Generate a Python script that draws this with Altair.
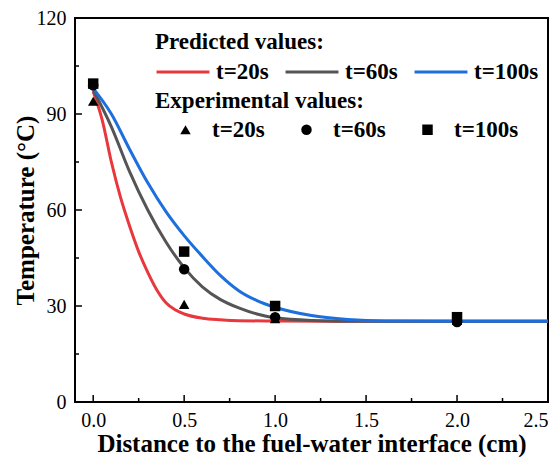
import altair as alt
import pandas as pd

# ---- data ----
series_names = ["t=20s", "t=60s", "t=100s"]
line_colors = ["#e8383d", "#555555", "#1c6fdc"]
marker_shapes = ["triangle-up", "circle", "square"]

# predicted curves
x_20 = [0, 0.05, 0.1, 0.15, 0.2, 0.25, 0.3, 0.35, 0.4, 0.45, 0.5, 0.6, 0.7, 0.8, 1.0, 1.5, 2.0, 2.5]
y_20 = [97, 88, 75, 64, 55, 47, 40.5, 35, 31, 28.8, 27.5, 26.2, 25.7, 25.4, 25.3, 25.2, 25.2, 25.2]
x_60 = [0, 0.1, 0.2, 0.3, 0.4, 0.5, 0.6, 0.7, 0.8, 0.9, 1.0, 1.2, 1.5, 2.0, 2.5]
y_60 = [97.5, 86, 72, 60, 50, 42, 36, 32, 29.4, 27.5, 26.3, 25.5, 25.2, 25.2, 25.2]
x_100 = [0, 0.1, 0.2, 0.3, 0.4, 0.5, 0.6, 0.7, 0.8, 0.9, 1.0, 1.2, 1.4, 1.6, 2.0, 2.5]
y_100 = [98, 90, 79, 68.5, 59.5, 52, 45.5, 39.5, 34.8, 31.7, 29.6, 27, 25.8, 25.3, 25.2, 25.2]

# experimental points
exp_x = [0, 0.5, 1.0, 2.0]
exp_20 = [94, 30.5, 26, 25.5]
exp_60 = [99, 41.5, 26.5, 25]
exp_100 = [99.5, 47, 30, 26.5]

# axis ticks
x_major = [0, 0.5, 1.0, 1.5, 2.0, 2.5]
x_minor = [0.25, 0.75, 1.25, 1.75, 2.25]
y_major = [0, 30, 60, 90, 120]
y_minor = [15, 45, 75, 105]

# ---- tables ----
rows = []
for name, xs_, ys_ in zip(series_names, [x_20, x_60, x_100], [y_20, y_60, y_100]):
    for i, (a, b) in enumerate(zip(xs_, ys_)):
        rows.append({"x": a, "y": b, "series": name, "order": i})
lines_df = pd.DataFrame(rows)

prow = []
for name, ys_ in zip(series_names, [exp_20, exp_60, exp_100]):
    for a, b in zip(exp_x, ys_):
        prow.append({"x": a, "y": b, "exp": name})
pts_df = pd.DataFrame(prow)

FONT = '"Liberation Serif", serif'
W, H = 473, 384
xs = alt.Scale(domain=[-0.1, 2.5], nice=False, zero=False)
ys = alt.Scale(domain=[0, 120], nice=False, zero=False)

lines = alt.Chart(lines_df).mark_line(strokeWidth=3, interpolate="monotone").encode(
    x=alt.X("x:Q", scale=xs,
            axis=alt.Axis(values=x_major, format=".1f", title="Distance to the fuel-water interface (cm)",
                          ticks=False, domain=False, grid=False, labelPadding=8,
                          labelFont=FONT, labelFontSize=20, labelColor="black",
                          titleFont=FONT, titleFontSize=25, titleFontWeight="bold", titleColor="black",
                          titleY=29, titleBaseline="top")),
    y=alt.Y("y:Q", scale=ys,
            axis=alt.Axis(values=y_major, title="Temperature (°C)",
                          ticks=False, domain=False, grid=False, labelPadding=9,
                          labelFont=FONT, labelFontSize=20, labelColor="black",
                          titleFont=FONT, titleFontSize=25, titleFontWeight="bold", titleColor="black",
                          titleX=-37, titleY=H / 2, titleAngle=270, titleBaseline="bottom")),
    color=alt.Color("series:N", scale=alt.Scale(domain=series_names, range=line_colors),
                    legend=alt.Legend(title="Predicted values:", orient="none", legendX=80, legendY=13,
                                      direction="horizontal", symbolType="stroke", symbolSize=2800,
                                      symbolStrokeWidth=3, labelOffset=5, columnPadding=10,
                                      titleFont=FONT, labelFont=FONT,
                                      titleFontSize=23, titleFontWeight="bold", titleColor="black",
                                      labelFontSize=23, labelFontWeight="bold", labelColor="black",
                                      titlePadding=-10, padding=0, titleLimit=0, labelLimit=0)),
    order="order:Q",
)

points = alt.Chart(pts_df).mark_point(filled=True, size=110, color="black", opacity=1).encode(
    x=alt.X("x:Q", scale=xs),
    y=alt.Y("y:Q", scale=ys),
    shape=alt.Shape("exp:N", scale=alt.Scale(domain=series_names, range=marker_shapes),
                    legend=alt.Legend(title="Experimental values:", orient="none", legendX=80, legendY=72,
                                      direction="horizontal", symbolSize=110, symbolFillColor="black",
                                      symbolStrokeColor="black", symbolOpacity=1,
                                      symbolOffset=19, labelOffset=15, columnPadding=11,
                                      titleFont=FONT, labelFont=FONT,
                                      titleFontSize=23, titleFontWeight="bold", titleColor="black",
                                      labelFontSize=23, labelFontWeight="bold", labelColor="black",
                                      titlePadding=5, padding=0, titleLimit=0, labelLimit=0)),
)

xticks_major = alt.Chart(pd.DataFrame({"v": x_major})).mark_rule(color="black", strokeWidth=1.5).encode(
    x=alt.X("v:Q", scale=xs), y=alt.value(H), y2=alt.value(H - 7))
xticks_minor = alt.Chart(pd.DataFrame({"v": x_minor})).mark_rule(color="black", strokeWidth=1.5).encode(
    x=alt.X("v:Q", scale=xs), y=alt.value(H), y2=alt.value(H - 4))
yticks_major = alt.Chart(pd.DataFrame({"v": y_major})).mark_rule(color="black", strokeWidth=1.5).encode(
    y=alt.Y("v:Q", scale=ys), x=alt.value(0), x2=alt.value(7))
yticks_minor = alt.Chart(pd.DataFrame({"v": y_minor})).mark_rule(color="black", strokeWidth=1.5).encode(
    y=alt.Y("v:Q", scale=ys), x=alt.value(0), x2=alt.value(4))

chart = alt.layer(lines, points, xticks_major, xticks_minor, yticks_major, yticks_minor).resolve_legend(
    color="independent", shape="independent"
).properties(
    width=W, height=H,
    autosize=alt.AutoSizeParams(type="none"),
    padding={"left": 67, "top": 10, "right": 4, "bottom": 56},
).configure(
    background="white", font=FONT
).configure_view(
    stroke="black", strokeWidth=2
).configure_axis(
    labelFont=FONT, titleFont=FONT
).configure_legend(
    labelFont=FONT, titleFont=FONT
)

chart.save("out.html", embed_options={"renderer": "svg", "actions": False})
